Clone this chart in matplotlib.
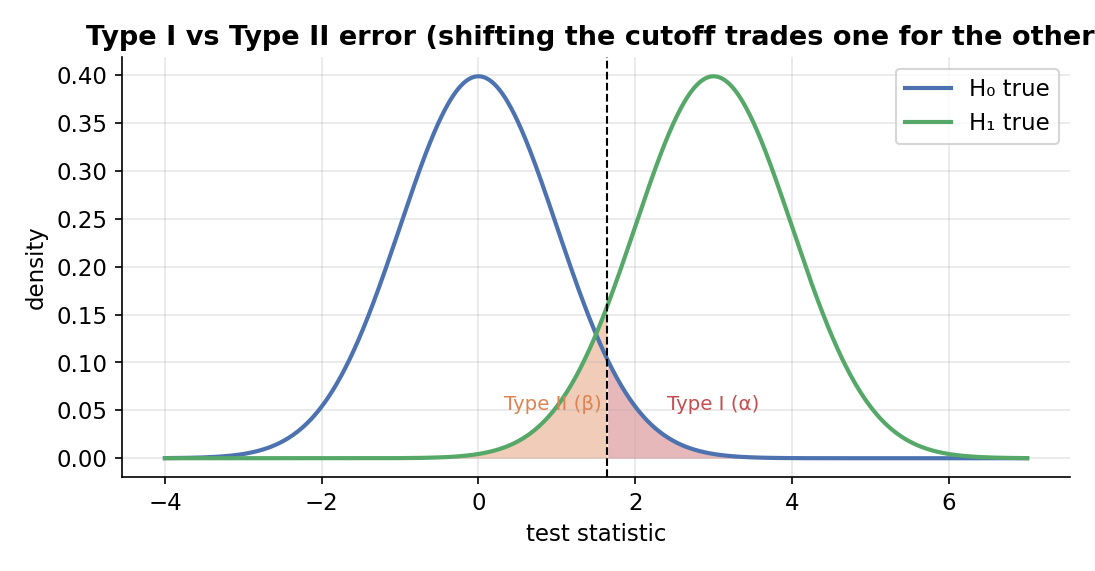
import numpy as np
import matplotlib
matplotlib.use("Agg")
import matplotlib.pyplot as plt

plt.rcParams["font.size"] = 11

x_range = [-4, 7]
mu0, mu1, sd = 0.0, 3.0, 1.0
cutoff = 1.645
labels = ["H\u2080 true", "H\u2081 true"]

x = np.linspace(x_range[0], x_range[1], 1000)
def pdf(x, m, s):
    return np.exp(-0.5 * ((x - m) / s) ** 2) / (s * np.sqrt(2 * np.pi))
y0 = pdf(x, mu0, sd)
y1 = pdf(x, mu1, sd)

fig, ax = plt.subplots(figsize=(7.3, 3.807), dpi=150)
ax.plot(x, y0, color="#4C72B0", lw=2, label=labels[0])
ax.plot(x, y1, color="#55A868", lw=2, label=labels[1])
ax.fill_between(x, 0, y1, where=x <= cutoff, color="#DD8452", alpha=0.4, lw=0)
ax.fill_between(x, 0, y0, where=x >= cutoff, color="#C44E52", alpha=0.4, lw=0)
ax.axvline(cutoff, color="black", ls="--", lw=1)
ax.text(0.95, 0.046, "Type II (\u03b2)", color="#DD8452", fontsize=9.5, ha="center", va="bottom")
ax.text(3.0, 0.046, "Type I (\u03b1)", color="#C44E52", fontsize=9.5, ha="center", va="bottom")
ax.set_title("Type I vs Type II error (shifting the cutoff trades one for the other)",
             fontweight="bold", fontsize=13)
ax.set_xlabel("test statistic")
ax.set_ylabel("density")
ax.grid(alpha=0.3)
ax.spines["top"].set_visible(False)
ax.spines["right"].set_visible(False)
ax.legend(loc="upper right")
fig.tight_layout()
fig.savefig("out.png")
